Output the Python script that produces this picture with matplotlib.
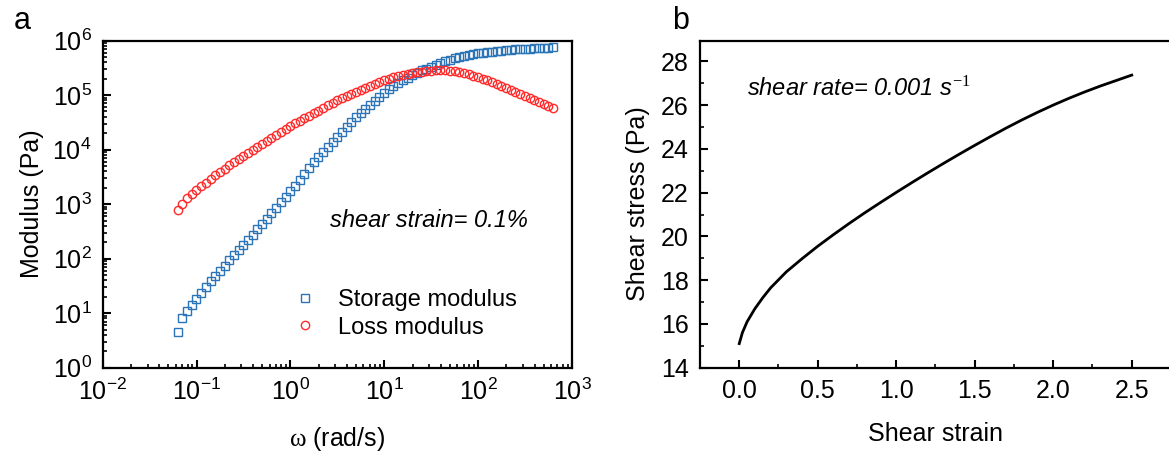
import matplotlib
matplotlib.use("Agg")
import matplotlib.pyplot as plt
from matplotlib.ticker import LogLocator, MultipleLocator, NullFormatter, FormatStrFormatter

plt.rcParams['font.family'] = ['Liberation Sans', 'DejaVu Sans']
plt.rcParams['mathtext.fontset'] = 'custom'
plt.rcParams['mathtext.rm'] = 'Liberation Serif'
plt.rcParams['mathtext.it'] = 'Liberation Sans:italic'

# ---------------- data: panel a ----------------
omega = [0.0628, 0.0705, 0.0791, 0.0887, 0.0995, 0.112, 0.125, 0.141, 0.158, 0.177,
         0.199, 0.223, 0.250, 0.281, 0.315, 0.353, 0.397, 0.445, 0.499, 0.560,
         0.628, 0.705, 0.791, 0.887, 0.995, 1.12, 1.25, 1.41, 1.58, 1.77,
         1.99, 2.23, 2.50, 2.81, 3.15, 3.53, 3.97, 4.45, 4.99, 5.60,
         6.28, 7.05, 7.91, 8.87, 9.95, 11.2, 12.5, 14.1, 15.8, 17.7,
         19.9, 22.3, 25.0, 28.1, 31.5, 35.3, 39.7, 44.5, 49.9, 56.0,
         62.8, 70.5, 79.1, 88.7, 99.5, 112, 125, 141, 158, 177,
         199, 223, 250, 281, 315, 353, 397, 445, 499, 560, 628]

storage = [4.6, 8.3, 11.1, 14.3, 18.5, 23.8, 30.6, 38.6, 48.7, 60.2,
           74.4, 93.8, 116, 146, 181, 223, 276, 348, 430, 542,
           684, 862, 1088, 1373, 1733, 2184, 2816, 3550, 4677, 5900,
           7450, 9190, 11350, 14000, 17300, 21400, 26400, 32700, 39500, 47700,
           56500, 67000, 79300, 93800, 111000, 129000, 149000, 169000, 188000, 209000,
           233000, 259000, 282000, 306000, 333000, 363000, 395000, 421000, 448000, 477000,
           508000, 531000, 553000, 577000, 590000, 603000, 615000, 629000, 642000, 656000,
           670000, 684000, 690000, 698000, 707000, 713000, 719000, 728000, 734000, 741000, 745000]

loss = [793, 1022, 1289, 1525, 1806, 2138, 2479, 2937, 3404, 3946,
        4478, 5196, 5900, 6838, 7762, 8810, 10000, 11350, 12880, 14620,
        16600, 18840, 21380, 24270, 27550, 30620, 34040, 37840, 42060, 46750,
        51970, 57710, 65560, 72810, 80940, 89970, 97950, 106600, 115900, 126200,
        137400, 149300, 162600, 177000, 188400, 200900, 213800, 223300, 232800, 242700,
        253400, 264200, 269800, 275400, 281800, 283800, 286400, 283800, 281800, 275400,
        266700, 255400, 242700, 228000, 213800, 200900, 186200, 172600, 159200, 147600,
        136100, 125100, 115900, 106600, 97950, 89970, 82600, 76000, 69800, 64100, 59000]

# ---------------- data: panel b ----------------
strain = [0.00, 0.02, 0.05, 0.10, 0.15, 0.20, 0.30, 0.40, 0.50, 0.60,
          0.70, 0.80, 0.90, 1.00, 1.10, 1.20, 1.30, 1.40, 1.50, 1.60,
          1.70, 1.80, 1.90, 2.00, 2.10, 2.20, 2.30, 2.40, 2.50]
stress = [15.1, 15.6, 16.1, 16.7, 17.2, 17.65, 18.38, 18.98, 19.55, 20.08,
          20.59, 21.08, 21.55, 22.01, 22.46, 22.90, 23.33, 23.75, 24.16, 24.56,
          24.95, 25.32, 25.67, 26.00, 26.31, 26.60, 26.87, 27.12, 27.37]

FS = 18
fig = plt.figure(figsize=(11.69, 4.61), dpi=100)
axa = fig.add_axes([0.0879, 0.2024, 0.4014, 0.7097])
axb = fig.add_axes([0.5988, 0.2024, 0.4029, 0.7097])

blue = '#2b74b8'
red = '#ff2a2a'

axa.plot(omega, storage, linestyle='none', marker='s', markersize=5.6,
         markerfacecolor='none', markeredgecolor=blue, markeredgewidth=1.0,
         label='Storage modulus')
axa.plot(omega, loss, linestyle='none', marker='o', markersize=6.0,
         markerfacecolor='none', markeredgecolor=red, markeredgewidth=1.0,
         label='Loss modulus')
axa.set_xscale('log')
axa.set_yscale('log')
axa.set_xlim(1e-2, 1e3)
axa.set_ylim(1, 1e6)
axa.xaxis.set_major_locator(LogLocator(base=10, numticks=20))
axa.yaxis.set_major_locator(LogLocator(base=10, numticks=20))
axa.xaxis.set_minor_locator(LogLocator(base=10, subs=range(2, 10), numticks=20))
axa.yaxis.set_minor_locator(LogLocator(base=10, subs=range(2, 10), numticks=20))
axa.xaxis.set_minor_formatter(NullFormatter())
axa.yaxis.set_minor_formatter(NullFormatter())
axa.set_xlabel(r'$\mathrm{\omega}$ (rad/s)', fontsize=FS, labelpad=14)
axa.set_ylabel('Modulus (Pa)', fontsize=FS, labelpad=6)
axa.text(0.485, 0.45, 'shear strain= 0.1%', transform=axa.transAxes,
         fontsize=17, style='italic', va='center', ha='left')
leg = axa.legend(loc='upper left', bbox_to_anchor=(0.38, 0.27), frameon=False,
                 fontsize=17, handletextpad=0.8, labelspacing=0.25,
                 borderaxespad=0, handlelength=1.2)

axb.plot(strain, stress, color='black', linewidth=2.0)
axb.set_xlim(-0.25, 2.75)
axb.set_ylim(14, 28.95)
axb.xaxis.set_major_locator(MultipleLocator(0.5))
axb.xaxis.set_minor_locator(MultipleLocator(0.25))
axb.yaxis.set_major_locator(MultipleLocator(2))
axb.yaxis.set_minor_locator(MultipleLocator(1))
axb.xaxis.set_major_formatter(FormatStrFormatter('%.1f'))
axb.set_xlabel('Shear strain', fontsize=FS, labelpad=14)
axb.set_ylabel('Shear stress (Pa)', fontsize=FS, labelpad=8)
axb.text(0.1, 0.855, r'shear rate= 0.001 $\mathit{s}^{\mathit{-1}}$', transform=axb.transAxes,
         fontsize=17, style='italic', va='center', ha='left')

for ax in (axa, axb):
    for sp in ax.spines.values():
        sp.set_linewidth(1.6)
    ax.tick_params(which='major', direction='in', length=6, width=1.5,
                   labelsize=FS, pad=8, top=False, right=False)
    ax.tick_params(which='minor', direction='in', length=3, width=1.2,
                   top=False, right=False)

fig.text(0.012, 0.955, 'a', fontsize=22, va='center', ha='left')
fig.text(0.575, 0.955, 'b', fontsize=22, va='center', ha='left')

fig.savefig('out.png', dpi=100)
